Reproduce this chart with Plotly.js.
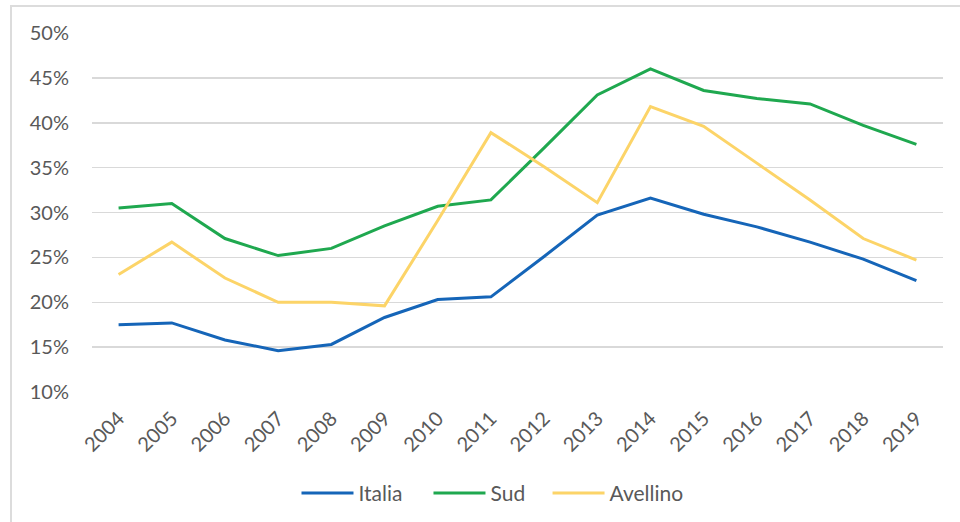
<!DOCTYPE html>
<html>
<head>
<meta charset="utf-8">
<script src="https://cdn.plot.ly/plotly-3.0.1.min.js"></script>
<style>
  html, body { margin: 0; padding: 0; background: #ffffff; }
  #wrap { position: relative; width: 960px; height: 522px; overflow: hidden; }
  #chart { position: absolute; left: 0; top: 0; width: 960px; height: 522px; }
  #frame {
    position: absolute; left: 10px; top: 5px; width: 980px; height: 560px;
    border-top: 2px solid #dcdcdc; border-left: 2px solid #dcdcdc;
    pointer-events: none;
  }
</style>
</head>
<body>
<div id="wrap">
  <div id="chart"></div>
  <div id="frame"></div>
</div>
<script>
// Anni
const years = ["2004","2005","2006","2007","2008","2009","2010","2011",
               "2012","2013","2014","2015","2016","2017","2018","2019"];

// Quote percentuali per area
const italia   = [17.5, 17.7, 15.8, 14.6, 15.3, 18.3, 20.3, 20.6,
                  25.1, 29.7, 31.6, 29.8, 28.4, 26.7, 24.8, 22.4];
const sud      = [30.5, 31.0, 27.1, 25.2, 26.0, 28.5, 30.7, 31.4,
                  37.2, 43.1, 46.0, 43.6, 42.7, 42.1, 39.7, 37.6];
const avellino = [23.1, 26.7, 22.7, 20.0, 20.0, 19.6, 29.1, 38.9,
                  35.1, 31.1, 41.8, 39.6, 35.5, 31.4, 27.1, 24.7];

const yTicks = [10, 15, 20, 25, 30, 35, 40, 45, 50];

// Each series gets its own legend box so the entries can be spaced freely
const series = [
  { name: "Italia",   y: italia,   color: "#1565b8", legend: "legend",  lx: 0.2403 },
  { name: "Sud",      y: sud,      color: "#1fa84f", legend: "legend2", lx: 0.3954 },
  { name: "Avellino", y: avellino, color: "#fcd468", legend: "legend3", lx: 0.5353 }
];

const traces = series.map(s => ({
  type: "scatter",
  mode: "lines",
  name: s.name,
  legend: s.legend,
  x: years,
  y: s.y,
  line: { color: s.color, width: 3, shape: "linear" },
  hoverinfo: "x+y+name"
}));

const tickFont   = { family: "Lato, 'Open Sans', sans-serif", size: 20, color: "#595959" };
const legendFont = { family: "Lato, 'Open Sans', sans-serif", size: 21, color: "#595959" };

const layout = {
  width: 960,
  height: 522,
  margin: { l: 92, r: 17, t: 33, b: 130, autoexpand: false },
  paper_bgcolor: "rgba(0,0,0,0)",
  plot_bgcolor: "#ffffff",
  font: tickFont,
  showlegend: true,
  xaxis: {
    type: "category",
    range: [-0.5, years.length - 0.5],
    tickangle: -45,
    tickfont: tickFont,
    showgrid: false,
    showline: false,
    ticks: "",
    ticklabelstandoff: 10,
    zeroline: false,
    fixedrange: true
  },
  yaxis: {
    range: [10, 50],
    tickvals: yTicks,
    ticktext: yTicks.map(v => v + "%"),
    tickfont: tickFont,
    showgrid: true,
    gridcolor: "#d9d9d9",
    gridwidth: 1.5,
    zeroline: false,
    showline: false,
    ticks: "",
    ticklabelstandoff: 22,
    fixedrange: true
  }
};

series.forEach(s => {
  layout[s.legend] = {
    orientation: "h",
    x: s.lx, xanchor: "left",
    y: -0.282, yanchor: "middle",
    font: legendFont,
    itemwidth: 52,
    bgcolor: "rgba(0,0,0,0)"
  };
});

Plotly.newPlot("chart", traces, layout, { displayModeBar: false, staticPlot: true });
</script>
</body>
</html>
